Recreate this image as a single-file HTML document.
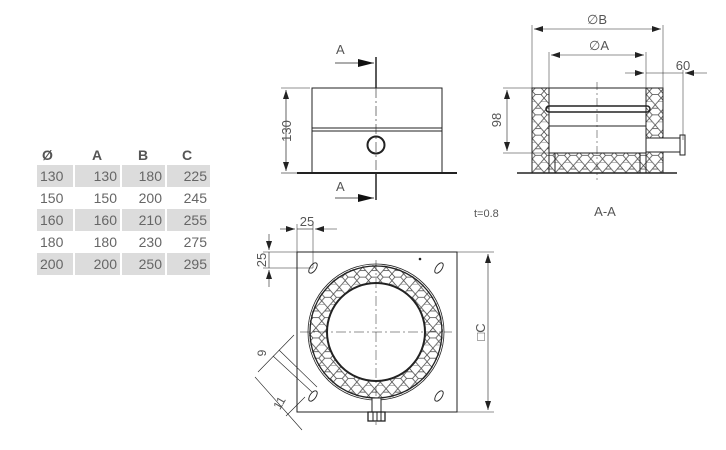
<!DOCTYPE html>
<html><head><meta charset="utf-8"><style>
html,body{margin:0;padding:0;background:#fff;}
svg{display:block;font-family:"Liberation Sans","DejaVu Sans",sans-serif;}
</style></head><body>
<svg width="726" height="450" viewBox="0 0 726 450" xmlns="http://www.w3.org/2000/svg">
<defs>
<pattern id="hex" width="9" height="15.6" patternUnits="userSpaceOnUse" patternTransform="scale(1.3)">
<path d="M0,2.6 L2.25,0 L6.75,0 L9,2.6 M4.5,7.8 L2.25,5.2 L-2.25,5.2 M4.5,7.8 L6.75,5.2 L11.25,5.2 M0,2.6 L2.25,5.2 M9,2.6 L6.75,5.2 M4.5,7.8 L2.25,10.4 L4.5,13 L6.75,10.4 L4.5,7.8 M2.25,10.4 L-2.25,10.4 M6.75,10.4 L11.25,10.4 M4.5,13 L2.25,15.6 M4.5,13 L6.75,15.6" fill="none" stroke="#444" stroke-width="0.6"/>
</pattern>
<marker id="ar" markerWidth="9" markerHeight="6" refX="9" refY="3" orient="auto" markerUnits="userSpaceOnUse"><path d="M0,0 L9,3 L0,6z" fill="#222"/></marker>
<marker id="al" markerWidth="9" markerHeight="6" refX="0" refY="3" orient="auto" markerUnits="userSpaceOnUse"><path d="M9,0 L0,3 L9,6z" fill="#222"/></marker>
<marker id="big" markerWidth="16" markerHeight="8" refX="16" refY="4" orient="auto" markerUnits="userSpaceOnUse"><path d="M0,0 L16,4 L0,8z" fill="#111"/></marker>
</defs>

<!-- table -->
<g font-size="14" fill="#666">
<g fill="#dcdcdc">
<rect x="37" y="165" width="36" height="22"/><rect x="75" y="165" width="45" height="22"/><rect x="122" y="165" width="43" height="22"/><rect x="167" y="165" width="43" height="22"/>
<rect x="37" y="209" width="36" height="22"/><rect x="75" y="209" width="45" height="22"/><rect x="122" y="209" width="43" height="22"/><rect x="167" y="209" width="43" height="22"/>
<rect x="37" y="253" width="36" height="22"/><rect x="75" y="253" width="45" height="22"/><rect x="122" y="253" width="43" height="22"/><rect x="167" y="253" width="43" height="22"/>
</g>
<g font-weight="bold" fill="#555"><text x="42" y="160">Ø</text><text x="92" y="160">A</text><text x="138" y="160">B</text><text x="182" y="160">C</text></g>
<g>
<text x="40" y="181">130</text><text x="117" y="181" text-anchor="end">130</text><text x="162" y="181" text-anchor="end">180</text><text x="207" y="181" text-anchor="end">225</text>
<text x="40" y="203">150</text><text x="117" y="203" text-anchor="end">150</text><text x="162" y="203" text-anchor="end">200</text><text x="207" y="203" text-anchor="end">245</text>
<text x="40" y="225">160</text><text x="117" y="225" text-anchor="end">160</text><text x="162" y="225" text-anchor="end">210</text><text x="207" y="225" text-anchor="end">255</text>
<text x="40" y="247">180</text><text x="117" y="247" text-anchor="end">180</text><text x="162" y="247" text-anchor="end">230</text><text x="207" y="247" text-anchor="end">275</text>
<text x="40" y="269">200</text><text x="117" y="269" text-anchor="end">200</text><text x="162" y="269" text-anchor="end">250</text><text x="207" y="269" text-anchor="end">295</text>
</g></g>

<g stroke="#222" fill="none" stroke-width="1">
<!-- front view -->
<rect x="312" y="88" width="130" height="85"/>
<line x1="312" y1="128" x2="442" y2="128"/><line x1="312" y1="131" x2="442" y2="131"/>
<line x1="297" y1="173" x2="457" y2="173" stroke-width="2"/>
<circle cx="376" cy="145" r="8.5" stroke-width="2"/>
<line x1="376" y1="57" x2="376" y2="88" stroke-width="1.5"/>
<line x1="376" y1="88" x2="376" y2="173" stroke-dasharray="10,3,2,3" stroke-width="0.6"/>
<line x1="376" y1="173" x2="376" y2="200" stroke-width="1.5"/>
<line x1="335" y1="63" x2="374" y2="63" marker-end="url(#big)" stroke-width="0.8"/>
<line x1="335" y1="198" x2="374" y2="198" marker-end="url(#big)" stroke-width="0.8"/>
<line x1="281" y1="88" x2="310" y2="88" stroke-width="0.6"/><line x1="281" y1="173" x2="297" y2="173" stroke-width="0.6"/>
<line x1="286" y1="90" x2="286" y2="171" stroke-width="0.7" marker-start="url(#al)" marker-end="url(#ar)"/>

<!-- section A-A -->
<rect x="532" y="88" width="17" height="85" fill="url(#hex)"/>
<rect x="646" y="88" width="17" height="85" fill="url(#hex)"/>
<rect x="549" y="153" width="97" height="20" fill="url(#hex)"/>
<rect x="532" y="88" width="131" height="85"/>
<rect x="549" y="88" width="97" height="65"/>
<line x1="555" y1="153" x2="555" y2="173"/><line x1="640" y1="153" x2="640" y2="173"/>
<rect x="546" y="106" width="104" height="6" rx="3" stroke-width="1.5"/>
<line x1="549" y1="126" x2="646" y2="126"/>
<rect x="646" y="138" width="35" height="14" fill="#fff"/>
<rect x="680" y="135" width="5" height="20" fill="#fff"/>
<line x1="517" y1="173" x2="677" y2="173" stroke-width="1.5"/>
<line x1="597" y1="82" x2="597" y2="180" stroke-dasharray="8,3,2,3" stroke-width="0.5"/>
<line x1="532" y1="25" x2="532" y2="88" stroke-width="0.5"/><line x1="663" y1="25" x2="663" y2="88" stroke-width="0.5"/>
<line x1="534" y1="29" x2="661" y2="29" stroke-width="0.6" marker-start="url(#al)" marker-end="url(#ar)"/>
<line x1="549" y1="52" x2="549" y2="88" stroke-width="0.5"/><line x1="646" y1="52" x2="646" y2="88" stroke-width="0.5"/>
<line x1="551" y1="55" x2="644" y2="55" stroke-width="0.6" marker-start="url(#al)" marker-end="url(#ar)"/>
<line x1="625" y1="73" x2="644" y2="73" stroke-width="0.6" marker-end="url(#ar)"/>
<line x1="707" y1="73" x2="685" y2="73" stroke-width="0.6" marker-end="url(#ar)"/>
<line x1="646" y1="73" x2="683" y2="73" stroke-width="0.6"/>
<line x1="683" y1="70" x2="683" y2="140" stroke-width="0.5"/>
<line x1="503" y1="88" x2="532" y2="88" stroke-width="0.5"/><line x1="503" y1="153" x2="549" y2="153" stroke-width="0.5"/>
<line x1="507" y1="90" x2="507" y2="151" stroke-width="0.6" marker-start="url(#al)" marker-end="url(#ar)"/>

<!-- plan view -->
<rect x="297" y="252" width="160" height="160"/>
<path d="M376,265 a67,67 0 1,0 0.01,0 z M376,283 a49,49 0 1,0 0.01,0 z" fill="url(#hex)" fill-rule="evenodd" stroke="none"/>
<circle cx="376" cy="332" r="68" stroke-width="0.8"/>
<circle cx="376" cy="332" r="66" stroke-width="1.3"/>
<circle cx="376" cy="332" r="49" stroke-width="2" fill="#fff"/>
<line x1="376" y1="260" x2="376" y2="425" stroke-dasharray="10,3,2,3" stroke-width="0.5"/>
<line x1="300" y1="332" x2="452" y2="332" stroke-dasharray="10,3,2,3" stroke-width="0.5"/>
<g stroke-width="0.9">
<ellipse cx="313" cy="268" rx="6" ry="3" transform="rotate(-55 313 268)"/>
<ellipse cx="439" cy="268" rx="6" ry="3" transform="rotate(-55 439 268)"/>
<ellipse cx="439" cy="396" rx="6" ry="3" transform="rotate(-55 439 396)"/>
<ellipse cx="313" cy="396" rx="6" ry="3" transform="rotate(-55 313 396)"/>
</g>
<circle cx="420" cy="259" r="0.8" fill="#222"/>
<rect x="372" y="398" width="9" height="14" fill="#fff"/>
<rect x="368" y="412" width="17" height="9" stroke-width="1.3" fill="#fff"/>
<line x1="373" y1="412" x2="373" y2="421"/><line x1="377" y1="412" x2="377" y2="421"/><line x1="381" y1="412" x2="381" y2="421"/>
<line x1="457" y1="252" x2="494" y2="252" stroke-width="0.5"/><line x1="457" y1="412" x2="494" y2="412" stroke-width="0.5"/>
<line x1="488" y1="254" x2="488" y2="410" stroke-width="0.6" marker-start="url(#al)" marker-end="url(#ar)"/>
<line x1="297" y1="224" x2="297" y2="252" stroke-width="0.5"/><line x1="313" y1="224" x2="313" y2="268" stroke-width="0.5"/>
<line x1="280" y1="229" x2="295" y2="229" stroke-width="0.6" marker-end="url(#ar)"/>
<line x1="337" y1="229" x2="315" y2="229" stroke-width="0.6" marker-end="url(#ar)"/>
<line x1="297" y1="229" x2="313" y2="229" stroke-width="0.6"/>
<line x1="263" y1="252" x2="297" y2="252" stroke-width="0.5"/><line x1="263" y1="268" x2="313" y2="268" stroke-width="0.5"/>
<line x1="269" y1="234" x2="269" y2="250" stroke-width="0.6" marker-end="url(#ar)"/>
<line x1="269" y1="287" x2="269" y2="270" stroke-width="0.6" marker-end="url(#ar)"/>
<line x1="269" y1="252" x2="269" y2="268" stroke-width="0.6"/>
<!-- diagonal slot dims -->
<line x1="273" y1="356" x2="312" y2="392" stroke-width="0.6"/>
<line x1="279" y1="350" x2="317" y2="387" stroke-width="0.6"/>
<line x1="258" y1="372" x2="294" y2="335" stroke-width="0.6"/>
<line x1="286" y1="416" x2="305" y2="397" stroke-width="0.6"/>
<line x1="255" y1="377" x2="302" y2="430" stroke-width="0.6"/>
</g>

<g font-size="13" fill="#555">
<text x="336" y="54">A</text><text x="336" y="191">A</text>
<text transform="translate(291,131) rotate(-90)" text-anchor="middle">130</text>
<text x="597" y="24" text-anchor="middle">∅B</text>
<text x="599" y="50" text-anchor="middle">∅A</text>
<text x="683" y="70" text-anchor="middle">60</text>
<text transform="translate(501,120) rotate(-90)" text-anchor="middle">98</text>
<text x="605" y="216" text-anchor="middle">A-A</text>
<text x="474" y="217" font-size="11">t=0.8</text>
<text x="307" y="226" text-anchor="middle">25</text>
<text transform="translate(266,260) rotate(-90)" text-anchor="middle">25</text>
<text transform="translate(485,332) rotate(-90)" text-anchor="middle">□C</text>
<text transform="translate(266,353) rotate(-90)" text-anchor="middle" font-size="12">9</text>
<text transform="translate(283,405) rotate(-60)" text-anchor="middle" font-size="12">11</text>
</g>
</svg>
</body></html>
